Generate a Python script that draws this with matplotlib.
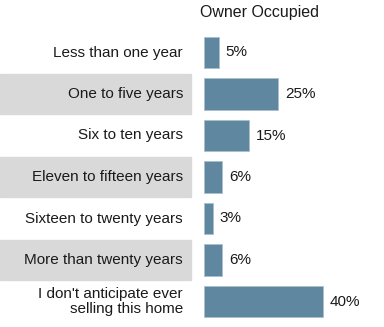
import numpy as np
import matplotlib.pyplot as plt
import matplotlib.transforms as mtransforms
from matplotlib.patches import Rectangle

plt.rcParams['font.family'] = ['Liberation Sans', 'DejaVu Sans']

categories = [
    'Less than one year',
    'One to five years',
    'Six to ten years',
    'Eleven to fifteen years',
    'Sixteen to twenty years',
    'More than twenty years',
    "I don't anticipate ever\nselling this home",
]
values = [5, 25, 15, 6, 3, 6, 40]
value_labels = ['5%', '25%', '15%', '6%', '3%', '6%', '40%']
series_name = 'Owner Occupied'

bar_color = '#5f87a0'
band_color = '#d9d9d9'
text_color = '#1a1a1a'

W, H = 384, 327
fig = plt.figure(figsize=(W / 100, H / 100), dpi=100)

ax_left = 204 / W
ax_top = 31.75 / H
ax_bottom = (H - 322.25) / H
ax = fig.add_axes([ax_left, ax_bottom, 1 - ax_left, 1 - ax_top - ax_bottom])

y = np.arange(len(categories))
ax.barh(y, values, height=0.75, color=bar_color,
        edgecolor='#a9bfcc', linewidth=0.6)
ax.set_xlim(0, 60.5)
ax.set_ylim(len(categories) - 0.5, -0.5)
ax.axis('off')

# alternating gray bands behind the category labels
trans = mtransforms.blended_transform_factory(fig.transFigure, ax.transData)
for i in range(len(categories)):
    if i % 2 == 1:
        ax.add_patch(Rectangle((0, i - 0.47), 191 / W, 0.94,
                               transform=trans, color=band_color,
                               clip_on=False, zorder=0))
    ax.text(183 / W, i, categories[i], transform=trans,
            ha='right', va='center', fontsize=11, color=text_color,
            linespacing=1.1)

for i, (v, lab) in enumerate(zip(values, value_labels)):
    ax.annotate(lab, (v, i), xytext=(5, 0), textcoords='offset points',
                ha='left', va='center', fontsize=11, color=text_color)

fig.text(259 / W, 1 - 12 / H, series_name, ha='center', va='center',
         fontsize=11.5, color=text_color)

fig.savefig('out.png', dpi=100)
